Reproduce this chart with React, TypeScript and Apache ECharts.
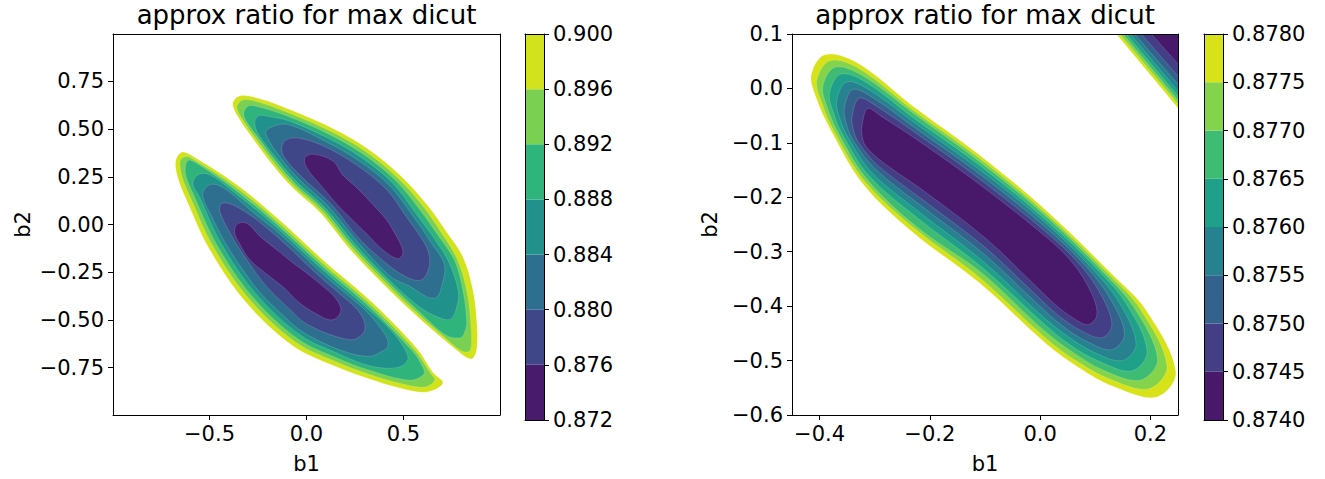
import React, { useEffect, useRef } from "react";
import * as echarts from "echarts";

const FONT = "DejaVu Sans";
const TITLE = "approx ratio for max dicut";

// ---------- colour levels ----------
const LEFT_LEVELS = [0.872, 0.876, 0.88, 0.884, 0.888, 0.892, 0.896, 0.9];
const LEFT_COLORS = ["#481b6d", "#3f4788", "#2e6e8e", "#21918c", "#2fb47c", "#7ad151", "#d2e21b"];
const RIGHT_LEVELS = [0.874, 0.8745, 0.875, 0.8755, 0.876, 0.8765, 0.877, 0.8775, 0.878];
const RIGHT_COLORS = ["#48186a", "#433e85", "#33638d", "#26828e", "#1fa088", "#3fbc73", "#84d44b", "#d8e219"];

// ---------- axis ticks ----------
const LEFT_X_TICKS = [-0.5, 0, 0.5];
const LEFT_Y_TICKS = [-0.75, -0.5, -0.25, 0, 0.25, 0.5, 0.75];
const RIGHT_X_TICKS = [-0.4, -0.2, 0, 0.2];
const RIGHT_Y_TICKS = [-0.6, -0.5, -0.4, -0.3, -0.2, -0.1, 0, 0.1];

// ---------- left panel: lower-left blob contours (b1, b2) ----------
const A_0900 = [[-0.674,0.333],[-0.643,0.379],[-0.586,0.358],[-0.359,0.208],[-0.138,0.022],[0.105,-0.205],[0.342,-0.412],[0.569,-0.650],[0.651,-0.774],[0.703,-0.831],[0.620,-0.878],[0.481,-0.857],[0.311,-0.805],[0.136,-0.738],[-0.071,-0.635],[-0.308,-0.412],[-0.498,-0.133],[-0.617,0.126],[-0.663,0.245]];
const A_0896 = [[-0.651,0.333],[-0.622,0.356],[-0.591,0.346],[-0.368,0.198],[-0.146,0.012],[0.096,-0.215],[0.333,-0.422],[0.558,-0.658],[0.640,-0.781],[0.661,-0.816],[0.610,-0.852],[0.486,-0.834],[0.318,-0.783],[0.145,-0.717],[-0.057,-0.616],[-0.290,-0.397],[-0.478,-0.122],[-0.595,0.134],[-0.641,0.249]];
const A_0892 = [[-0.622,0.317],[-0.602,0.338],[-0.497,0.275],[-0.375,0.188],[-0.155,0.003],[0.087,-0.224],[0.324,-0.431],[0.548,-0.666],[0.600,-0.749],[0.605,-0.785],[0.533,-0.816],[0.324,-0.764],[0.153,-0.698],[-0.044,-0.600],[-0.274,-0.384],[-0.460,-0.111],[-0.576,0.142],[-0.621,0.253]];
const A_0888 = [[-0.586,0.214],[-0.560,0.260],[-0.504,0.263],[-0.384,0.178],[-0.163,-0.007],[0.078,-0.233],[0.315,-0.440],[0.438,-0.558],[0.502,-0.645],[0.522,-0.707],[0.471,-0.749],[0.331,-0.742],[0.162,-0.676],[-0.030,-0.581],[-0.256,-0.369],[-0.440,-0.100],[-0.555,0.151]];
const A_0884 = [[-0.535,0.152],[-0.509,0.203],[-0.462,0.208],[-0.393,0.166],[-0.276,0.064],[-0.174,-0.018],[-0.072,-0.110],[0.068,-0.245],[0.187,-0.349],[0.304,-0.451],[0.409,-0.583],[0.419,-0.640],[0.378,-0.671],[0.316,-0.692],[0.171,-0.657],[-0.018,-0.564],[-0.128,-0.469],[-0.240,-0.356],[-0.338,-0.223],[-0.422,-0.090],[-0.487,0.039]];
const A_0880 = [[-0.447,0.069],[-0.437,0.110],[-0.385,0.105],[-0.290,0.049],[-0.188,-0.033],[-0.086,-0.125],[0.053,-0.259],[0.172,-0.364],[0.264,-0.449],[0.301,-0.521],[0.290,-0.573],[0.223,-0.604],[0.010,-0.527],[-0.095,-0.436],[-0.205,-0.326],[-0.300,-0.197],[-0.382,-0.067]];
const A_0876 = [[-0.370,-0.045],[-0.359,0.002],[-0.308,0.007],[-0.241,-0.061],[-0.153,-0.133],[-0.071,-0.200],[0.017,-0.267],[0.079,-0.319],[0.141,-0.376],[0.177,-0.438],[0.161,-0.485],[0.120,-0.500],[0.043,-0.464],[-0.035,-0.412],[-0.112,-0.335],[-0.189,-0.273],[-0.292,-0.185],[-0.344,-0.102]];

// ---------- left panel: upper-right blob contours ----------
const B_0900 = [[-0.380,0.633],[-0.344,0.674],[-0.241,0.659],[-0.071,0.596],[0.136,0.503],[0.311,0.400],[0.481,0.260],[0.620,0.105],[0.723,-0.040],[0.806,-0.169],[0.857,-0.340],[0.878,-0.516],[0.878,-0.650],[0.857,-0.702],[0.826,-0.697],[0.790,-0.671],[0.703,-0.599],[0.569,-0.480],[0.393,-0.309],[0.223,-0.128],[0.069,0.064],[-0.071,0.193],[-0.174,0.312],[-0.277,0.452],[-0.344,0.550]];
const B_0896 = [[-0.359,0.617],[-0.328,0.653],[-0.245,0.641],[-0.077,0.579],[0.127,0.487],[0.301,0.385],[0.468,0.247],[0.604,0.092],[0.702,-0.054],[0.777,-0.182],[0.826,-0.346],[0.847,-0.516],[0.850,-0.635],[0.837,-0.666],[0.797,-0.662],[0.710,-0.590],[0.577,-0.471],[0.402,-0.301],[0.232,-0.120],[0.078,0.071],[-0.062,0.201],[-0.164,0.319],[-0.267,0.458],[-0.333,0.555]];
const B_0892 = [[-0.323,0.586],[-0.297,0.622],[-0.230,0.612],[-0.083,0.562],[0.120,0.471],[0.291,0.370],[0.456,0.234],[0.588,0.072],[0.684,-0.065],[0.763,-0.188],[0.807,-0.350],[0.826,-0.516],[0.816,-0.562],[0.795,-0.593],[0.719,-0.580],[0.586,-0.462],[0.411,-0.292],[0.241,-0.112],[0.088,0.079],[-0.053,0.209],[-0.154,0.326],[-0.256,0.465],[-0.313,0.545]];
const B_0888 = [[-0.267,0.534],[-0.246,0.571],[-0.189,0.565],[-0.090,0.543],[0.110,0.453],[0.280,0.353],[0.441,0.220],[0.564,0.058],[0.662,-0.079],[0.735,-0.200],[0.783,-0.355],[0.770,-0.449],[0.744,-0.495],[0.703,-0.495],[0.594,-0.440],[0.419,-0.284],[0.251,-0.104],[0.097,0.086],[-0.044,0.217],[-0.145,0.334],[-0.246,0.471]];
const B_0884 = [[-0.210,0.477],[-0.184,0.509],[-0.097,0.524],[0.101,0.434],[0.269,0.335],[0.427,0.205],[0.548,0.046],[0.641,-0.093],[0.711,-0.211],[0.697,-0.324],[0.672,-0.381],[0.625,-0.381],[0.533,-0.324],[0.433,-0.272],[0.264,-0.092],[0.111,0.097],[-0.030,0.229],[-0.130,0.345]];
const B_0880 = [[-0.127,0.410],[-0.102,0.446],[-0.035,0.452],[0.089,0.411],[0.254,0.314],[0.409,0.187],[0.525,0.025],[0.615,-0.110],[0.636,-0.195],[0.615,-0.267],[0.584,-0.293],[0.533,-0.283],[0.445,-0.231],[0.277,-0.080],[0.125,0.109],[-0.017,0.242],[-0.116,0.355]];
const B_0876 = [[-0.009,0.348],[0.032,0.369],[0.136,0.333],[0.187,0.260],[0.259,0.193],[0.342,0.105],[0.414,0.022],[0.466,-0.066],[0.491,-0.117],[0.496,-0.154],[0.471,-0.180],[0.393,-0.133],[0.311,-0.050],[0.223,0.038],[0.172,0.089],[0.084,0.193],[0.002,0.296]];

// ---------- right panel: main blob contours ----------
const R_08780 = [[-0.415,0.025],[-0.390,0.062],[-0.332,0.047],[-0.230,-0.033],[-0.109,-0.123],[0.012,-0.225],[0.132,-0.343],[0.193,-0.409],[0.246,-0.521],[0.211,-0.567],[0.132,-0.547],[0.072,-0.514],[0.012,-0.470],[-0.109,-0.358],[-0.230,-0.265],[-0.320,-0.177],[-0.381,-0.074],[-0.405,-0.020]];
const R_08775 = [[-0.405,0.015],[-0.381,0.051],[-0.328,0.036],[-0.229,-0.041],[-0.109,-0.129],[0.012,-0.231],[0.124,-0.341],[0.182,-0.406],[0.230,-0.510],[0.197,-0.552],[0.124,-0.533],[0.066,-0.501],[0.009,-0.458],[-0.108,-0.349],[-0.228,-0.257],[-0.317,-0.172],[-0.374,-0.078],[-0.396,-0.027]];
const R_08770 = [[-0.394,0.004],[-0.372,0.039],[-0.323,0.024],[-0.227,-0.048],[-0.109,-0.135],[0.012,-0.236],[0.115,-0.338],[0.170,-0.402],[0.213,-0.497],[0.182,-0.536],[0.115,-0.518],[0.061,-0.486],[0.006,-0.444],[-0.106,-0.339],[-0.224,-0.254],[-0.314,-0.167],[-0.366,-0.082],[-0.386,-0.035]];
const R_08765 = [[-0.382,-0.009],[-0.362,0.026],[-0.317,0.012],[-0.226,-0.057],[-0.109,-0.142],[0.012,-0.243],[0.106,-0.335],[0.157,-0.397],[0.194,-0.483],[0.166,-0.519],[0.106,-0.501],[0.054,-0.471],[0.003,-0.429],[-0.105,-0.329],[-0.221,-0.239],[-0.310,-0.161],[-0.358,-0.085],[-0.375,-0.044]];
const R_08760 = [[-0.369,-0.022],[-0.351,0.012],[-0.311,-0.002],[-0.224,-0.066],[-0.109,-0.150],[0.012,-0.249],[0.096,-0.333],[0.143,-0.393],[0.174,-0.469],[0.149,-0.500],[0.096,-0.484],[0.048,-0.454],[-0.001,-0.414],[-0.103,-0.318],[-0.218,-0.228],[-0.305,-0.155],[-0.349,-0.089],[-0.364,-0.053]];
const R_08755 = [[-0.355,-0.036],[-0.340,-0.002],[-0.305,-0.016],[-0.222,-0.076],[-0.109,-0.158],[0.012,-0.257],[0.085,-0.329],[0.128,-0.388],[0.153,-0.452],[0.130,-0.480],[0.085,-0.465],[0.040,-0.436],[-0.004,-0.397],[-0.101,-0.305],[-0.214,-0.217],[-0.300,-0.147],[-0.340,-0.094],[-0.352,-0.063]];
const R_08750 = [[-0.341,-0.051],[-0.328,-0.018],[-0.298,-0.032],[-0.220,-0.086],[-0.109,-0.167],[0.012,-0.265],[0.074,-0.326],[0.112,-0.382],[0.130,-0.435],[0.112,-0.458],[0.074,-0.445],[0.033,-0.417],[-0.008,-0.379],[-0.100,-0.292],[-0.211,-0.206],[-0.296,-0.140],[-0.330,-0.098],[-0.339,-0.074]];
const R_08745 = [[-0.323,-0.068],[-0.313,-0.037],[-0.290,-0.050],[-0.218,-0.098],[-0.109,-0.177],[0.012,-0.274],[0.060,-0.322],[0.093,-0.376],[0.103,-0.416],[0.087,-0.434],[0.060,-0.422],[0.024,-0.394],[-0.013,-0.358],[-0.097,-0.277],[-0.206,-0.192],[-0.290,-0.132],[-0.317,-0.105],[-0.323,-0.086]];

// ---------- right panel: top-right corner blob (contours run past the frame) ----------
const K_08780 = [[0.108,0.137],[0.1382,0.1],[0.25,-0.036],[0.28,-0.073],[0.33,0.17]];
const K_08775 = [[0.116,0.135],[0.1442,0.1],[0.25,-0.0288],[0.28,-0.066],[0.33,0.17]];
const K_08770 = [[0.123,0.134],[0.1502,0.1],[0.25,-0.0215],[0.28,-0.058],[0.33,0.17]];
const K_08765 = [[0.130,0.134],[0.1563,0.1],[0.25,-0.0137],[0.28,-0.050],[0.33,0.17]];
const K_08760 = [[0.139,0.133],[0.1636,0.1],[0.25,-0.0046],[0.28,-0.040],[0.33,0.17]];
const K_08755 = [[0.149,0.132],[0.1714,0.1],[0.25,0.0075],[0.28,-0.027],[0.33,0.17]];
const K_08750 = [[0.164,0.129],[0.1835,0.1],[0.25,0.0226],[0.28,-0.008],[0.33,0.17]];
const K_08745 = [[0.187,0.124],[0.2016,0.1],[0.25,0.0450],[0.28,0.012],[0.33,0.17]];

type Contour = { level: number; pts: number[][] };

const LEFT_CONTOURS: Contour[] = [
  { level: 0.9, pts: A_0900 }, { level: 0.896, pts: A_0896 }, { level: 0.892, pts: A_0892 },
  { level: 0.888, pts: A_0888 }, { level: 0.884, pts: A_0884 }, { level: 0.88, pts: A_0880 },
  { level: 0.876, pts: A_0876 },
  { level: 0.9, pts: B_0900 }, { level: 0.896, pts: B_0896 }, { level: 0.892, pts: B_0892 },
  { level: 0.888, pts: B_0888 }, { level: 0.884, pts: B_0884 }, { level: 0.88, pts: B_0880 },
  { level: 0.876, pts: B_0876 },
];

const RIGHT_CONTOURS: Contour[] = [
  { level: 0.878, pts: R_08780 }, { level: 0.8775, pts: R_08775 }, { level: 0.877, pts: R_08770 },
  { level: 0.8765, pts: R_08765 }, { level: 0.876, pts: R_08760 }, { level: 0.8755, pts: R_08755 },
  { level: 0.875, pts: R_08750 }, { level: 0.8745, pts: R_08745 },
];

const CORNER_CONTOURS: Contour[] = [
  { level: 0.878, pts: K_08780 }, { level: 0.8775, pts: K_08775 }, { level: 0.877, pts: K_08770 },
  { level: 0.8765, pts: K_08765 }, { level: 0.876, pts: K_08760 }, { level: 0.8755, pts: K_08755 },
  { level: 0.875, pts: K_08750 }, { level: 0.8745, pts: K_08745 },
];

const fmt = (d: number) => (v: number) => (v < -1e-12 ? "\u2212" : "") + Math.abs(v).toFixed(d);
const labelStyle = { color: "#000", fontSize: 21, fontFamily: FONT };
const lineStyle = { color: "#000", width: 1 };

function contourSeries(contours: Contour[], levels: number[], colors: string[], axisIdx: number, smooth: number) {
  return {
    type: "custom",
    xAxisIndex: axisIdx,
    yAxisIndex: axisIdx,
    clip: true,
    silent: true,
    z: 2,
    data: contours.map((c) => c.pts[1]),
    encode: { x: 0, y: 1 },
    renderItem: (params: any, api: any) => {
      const c = contours[params.dataIndex];
      const idx = levels.findIndex((l) => Math.abs(l - c.level) < 1e-9);
      return {
        type: "polygon",
        shape: { points: c.pts.map((p) => api.coord(p)), smooth },
        style: { fill: colors[idx - 1], stroke: "rgba(255,255,255,0.25)", lineWidth: 0.6 },
      };
    },
  };
}

function colorbarSeries(levels: number[], colors: string[], axisIdx: number) {
  return {
    type: "custom",
    xAxisIndex: axisIdx,
    yAxisIndex: axisIdx,
    silent: true,
    z: 2,
    data: colors.map((_, i) => [0.5, levels[i], levels[i + 1]]),
    encode: { x: 0, y: [1, 2] },
    renderItem: (params: any, api: any) => {
      const p0 = api.coord([0, api.value(2)]);
      const p1 = api.coord([1, api.value(1)]);
      return {
        type: "rect",
        shape: { x: p0[0], y: p0[1], width: p1[0] - p0[0], height: p1[1] - p0[1] },
        style: { fill: colors[params.dataIndex] },
      };
    },
  };
}

function xMain(grid: number, min: number, max: number, ticks: number[], dec: number) {
  return {
    type: "value", gridIndex: grid, min, max, position: "bottom", z: 10,
    axisLine: { show: true, onZero: false, lineStyle },
    axisTick: { show: true, length: 5, customValues: ticks, lineStyle },
    axisLabel: { show: true, customValues: ticks, formatter: fmt(dec), margin: 8, ...labelStyle },
    splitLine: { show: false },
    name: "b1", nameLocation: "middle", nameGap: 38, nameTextStyle: { ...labelStyle },
  };
}
function yMain(grid: number, min: number, max: number, ticks: number[], dec: number, gap: number) {
  return {
    type: "value", gridIndex: grid, min, max, position: "left", z: 10,
    axisLine: { show: true, onZero: false, lineStyle },
    axisTick: { show: true, length: 5, customValues: ticks, lineStyle },
    axisLabel: { show: true, customValues: ticks, formatter: fmt(dec), margin: 9, ...labelStyle },
    splitLine: { show: false },
    name: "b2", nameLocation: "middle", nameGap: gap, nameTextStyle: { ...labelStyle },
  };
}
function frameAxis(grid: number, min: number, max: number, position: string) {
  return {
    type: "value", gridIndex: grid, min, max, position, z: 10,
    axisLine: { show: true, onZero: false, lineStyle },
    axisTick: { show: false }, axisLabel: { show: false }, splitLine: { show: false },
  };
}
function yCbar(grid: number, levels: number[], dec: number) {
  return {
    type: "value", gridIndex: grid, min: levels[0], max: levels[levels.length - 1], position: "right", z: 10,
    axisLine: { show: true, onZero: false, lineStyle },
    axisTick: { show: true, length: 5, customValues: levels, lineStyle },
    axisLabel: { show: true, customValues: levels, formatter: fmt(dec), margin: 9, ...labelStyle },
    splitLine: { show: false },
  };
}

export default function App() {
  const ref = useRef<HTMLDivElement>(null);
  useEffect(() => {
    if (!ref.current) return;
    const chart = echarts.init(ref.current, undefined, { renderer: "svg" });
    const LX: [number, number] = [-0.9975, 0.9975];
    const LY: [number, number] = [-0.9985, 0.9985];
    const RX: [number, number] = [-0.45, 0.25];
    const RY: [number, number] = [-0.6, 0.1];
    const titleStyle = { fontSize: 26, fontWeight: "normal", fontFamily: FONT, color: "#000" };
    chart.setOption({
      animation: false,
      backgroundColor: "#fff",
      title: [
        { text: TITLE, left: 306.5, top: 2, textAlign: "center", padding: 0, textStyle: titleStyle },
        { text: TITLE, left: 985, top: 2, textAlign: "center", padding: 0, textStyle: titleStyle },
      ],
      grid: [
        { left: 113, top: 34, width: 387, height: 386 },
        { left: 525, top: 34, width: 19, height: 386 },
        { left: 792, top: 34, width: 386, height: 386 },
        { left: 1204, top: 34, width: 19, height: 386 },
      ],
      xAxis: [
        xMain(0, LX[0], LX[1], LEFT_X_TICKS, 1),
        frameAxis(1, 0, 1, "bottom"),
        xMain(2, RX[0], RX[1], RIGHT_X_TICKS, 1),
        frameAxis(3, 0, 1, "bottom"),
        frameAxis(0, LX[0], LX[1], "top"),
        frameAxis(1, 0, 1, "top"),
        frameAxis(2, RX[0], RX[1], "top"),
        frameAxis(3, 0, 1, "top"),
      ],
      yAxis: [
        yMain(0, LY[0], LY[1], LEFT_Y_TICKS, 2, 80),
        yCbar(1, LEFT_LEVELS, 3),
        yMain(2, RY[0], RY[1], RIGHT_Y_TICKS, 1, 72),
        yCbar(3, RIGHT_LEVELS, 4),
        frameAxis(0, LY[0], LY[1], "right"),
        frameAxis(1, LEFT_LEVELS[0], LEFT_LEVELS[7], "left"),
        frameAxis(2, RY[0], RY[1], "right"),
        frameAxis(3, RIGHT_LEVELS[0], RIGHT_LEVELS[8], "left"),
      ],
      series: [
        contourSeries(LEFT_CONTOURS, LEFT_LEVELS, LEFT_COLORS, 0, 0.35),
        colorbarSeries(LEFT_LEVELS, LEFT_COLORS, 1),
        contourSeries(RIGHT_CONTOURS, RIGHT_LEVELS, RIGHT_COLORS, 2, 0.35),
        contourSeries(CORNER_CONTOURS, RIGHT_LEVELS, RIGHT_COLORS, 2, 0),
        colorbarSeries(RIGHT_LEVELS, RIGHT_COLORS, 3),
      ],
    });
    return () => chart.dispose();
  }, []);
  return <div ref={ref} style={{ position: "fixed", left: 0, top: 0, width: 1325, height: 479 }} />;
}
